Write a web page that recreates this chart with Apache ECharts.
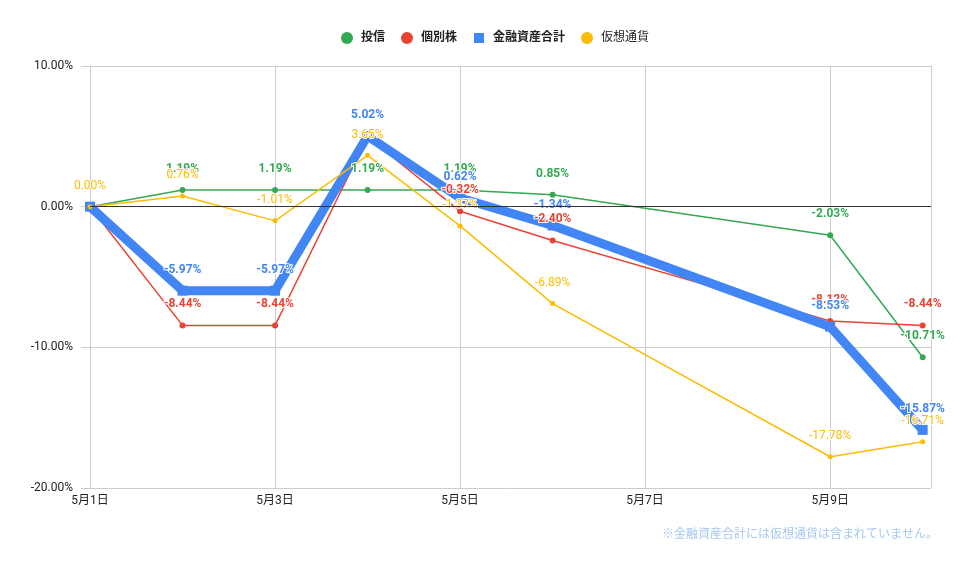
<!DOCTYPE html>
<html>
<head>
<meta charset="utf-8">
<script src="https://cdn.jsdelivr.net/npm/echarts@6/dist/echarts.min.js"></script>
<style>
  html, body { margin: 0; padding: 0; background: #fff; }
  #main { width: 960px; height: 569px; }
</style>
</head>
<body>
<div id="main"></div>
<script>
// 日付（5月の日）
var days = [1, 2, 3, 4, 5, 6, 9, 10]
// 各系列の騰落率（%）
var toushin = [0, 1.19, 1.19, 1.19, 1.19, 0.85, -2.03, -10.71]
var kobetsu = [0, -8.44, -8.44, 4.95, -0.32, -2.40, -8.12, -8.44]
var goukei = [0, -5.97, -5.97, 5.02, 0.62, -1.34, -8.53, -15.87]
var kasou = [0, 0.76, -1.01, 3.65, -1.37, -6.89, -17.78, -16.71]
var yTicks = [-20, -10, 0, 10]

var FONT = 'Roboto, Arial, "Noto Sans CJK JP", sans-serif'

function fmt(p) { return p.value[1].toFixed(2) + '%' }

function makeSeries(name, vals, color, opts) {
  var hide = opts.hide || []
  var data = days.map(function (d, i) {
    var item = { value: [d, vals[i]] }
    if (hide.indexOf(i) >= 0) item.label = { show: false }
    return item
  })
  return {
    name: name,
    type: 'line',
    data: data,
    symbol: opts.symbol || 'circle',
    symbolSize: opts.symbolSize,
    lineStyle: { color: color, width: opts.width },
    itemStyle: { color: color },
    z: 2,
    label: {
      show: true,
      position: 'top',
      distance: opts.dist,
      formatter: fmt,
      color: color,
      fontFamily: FONT,
      fontSize: 12,
      fontWeight: opts.bold ? 'bold' : 'normal',
      textBorderColor: '#fff',
      textBorderWidth: 2
    },
    emphasis: { disabled: true },
    animation: false
  }
}

var chart = echarts.init(document.getElementById('main'))

var series = [
  makeSeries('投信', toushin, '#34a853', { symbolSize: 6, width: 1.5, bold: true, dist: 12, hide: [0] }),
  makeSeries('個別株', kobetsu, '#ea4335', { symbolSize: 6, width: 1.5, bold: true, dist: 12, hide: [0, 3] }),
  makeSeries('金融資産合計', goukei, '#4285f4', { symbol: 'rect', symbolSize: 10, width: 9, bold: true, dist: 10, hide: [0] }),
  makeSeries('仮想通貨', kasou, '#fbbc04', { symbolSize: 5, width: 1.5, bold: false, dist: 12 })
]

// 0% の基準線
series[0].markLine = {
  silent: true,
  symbol: 'none',
  label: { show: false },
  lineStyle: { color: '#333', type: 'solid', width: 1 },
  data: [{ yAxis: 0 }]
}

var option = {
  backgroundColor: '#fff',
  textStyle: { fontFamily: FONT },
  legend: {
    top: 27,
    left: 336,
    itemWidth: 12,
    itemHeight: 12,
    itemGap: 16,
    textStyle: { fontSize: 12, color: '#222', fontWeight: 'bold', padding: [0, 0, 0, 3] },
    data: [
      { name: '投信', icon: 'circle' },
      { name: '個別株', icon: 'circle' },
      { name: '金融資産合計', icon: 'image://data:image/svg+xml;utf8,<svg xmlns="http://www.w3.org/2000/svg" width="12" height="12"><rect x="1" y="1" width="10" height="10" fill="%234285f4"/></svg>' },
      { name: '仮想通貨', icon: 'circle', textStyle: { fontWeight: 'normal' } }
    ]
  },
  grid: { left: 90, right: 29, top: 66, bottom: 81 },
  xAxis: {
    type: 'value',
    min: 1,
    max: 10.09,
    interval: 2,
    axisLine: { show: false },
    axisTick: { show: false },
    axisLabel: {
      color: '#222',
      fontSize: 12,
      margin: 7,
      formatter: function (v) { return '5月' + v + '日' },
      showMaxLabel: false
    },
    splitLine: { show: true, lineStyle: { color: '#ccc' } }
  },
  yAxis: {
    type: 'value',
    min: yTicks[0],
    max: yTicks[yTicks.length - 1],
    interval: 10,
    axisLine: { show: false },
    axisTick: { show: true, length: 9, lineStyle: { color: '#ccc' } },
    axisLabel: {
      color: '#222',
      fontSize: 12,
      margin: 17,
      formatter: function (v) { return v.toFixed(2) + '%' }
    },
    splitLine: { show: true, lineStyle: { color: '#ccc' } }
  },
  graphic: [{
    type: 'text',
    right: 22,
    top: 529,
    style: {
      text: '※金融資産合計には仮想通貨は含まれていません。',
      fill: '#a4c8ee',
      fontSize: 12,
      fontFamily: FONT
    }
  }],
  series: series
}

chart.setOption(option)
</script>
</body>
</html>
